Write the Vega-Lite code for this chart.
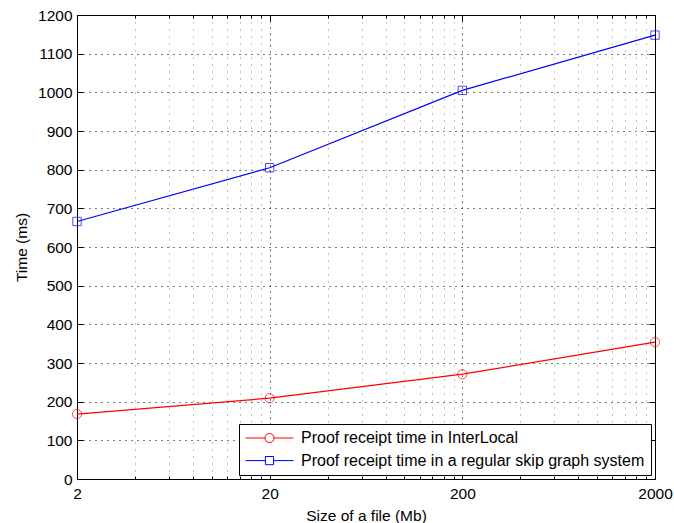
{
  "$schema": "https://vega.github.io/schema/vega-lite/v6.json",
  "width": 578,
  "height": 464,
  "autosize": {"type": "none"},
  "padding": {"left": 77, "top": 15, "right": 19, "bottom": 44},
  "background": "white",
  "config": {
    "view": {"stroke": "#000", "strokeWidth": 1},
    "font": "Liberation Sans",
    "axis": {
      "labelFont": "Liberation Sans",
      "titleFont": "Liberation Sans",
      "labelFontSize": 15.5,
      "titleFontSize": 15.5,
      "titleFontWeight": "normal",
      "labelColor": "#000",
      "titleColor": "#000",
      "tickColor": "#000",
      "labelFlush": false,
      "domain": false
    }
  },
  "datasets": {
    "d": [
      {"series": "Proof receipt time in InterLocal", "size": 2, "time": 168},
      {"series": "Proof receipt time in InterLocal", "size": 20, "time": 209},
      {"series": "Proof receipt time in InterLocal", "size": 200, "time": 271},
      {"series": "Proof receipt time in InterLocal", "size": 2000, "time": 354},
      {"series": "Proof receipt time in a regular skip graph system", "size": 2, "time": 666},
      {"series": "Proof receipt time in a regular skip graph system", "size": 20, "time": 805},
      {"series": "Proof receipt time in a regular skip graph system", "size": 200, "time": 1005},
      {"series": "Proof receipt time in a regular skip graph system", "size": 2000, "time": 1148}
    ]
  },
  "data": {"name": "d"},
  "layer": [
    {
      "transform": [{"filter": "datum.series === 'Proof receipt time in InterLocal'"}],
      "mark": {"type": "line", "strokeWidth": 1.2, "color": "#ff0000"},
      "encoding": {
        "x": {"field": "size", "type": "quantitative",
          "scale": {"type": "log", "domain": [2, 2000], "nice": false},
          "axis": {"orient": "bottom", "values": [2, 20, 200, 2000], "format": "d", "ticks": false, "labelFlush": false,
            "grid": true, "gridColor": "#000", "gridDash": [1, 5], "gridWidth": 1,
            "labelPadding": 7, "title": "Size of a file (Mb)", "titlePadding": 7}},
        "y": {"field": "time", "type": "quantitative",
          "scale": {"domain": [0, 1200], "nice": false},
          "axis": {"orient": "left", "values": [0,100,200,300,400,500,600,700,800,900,1000,1100,1200], "format": "d", "labelFlush": false,
            "ticks": false, "grid": true, "gridColor": "#000", "gridDash": [1, 5], "gridWidth": 1,
            "labelPadding": 5, "title": "Time (ms)", "titlePadding": 8}}
      }
    },
    {
      "transform": [{"filter": "datum.series === 'Proof receipt time in a regular skip graph system'"}],
      "mark": {"type": "line", "strokeWidth": 1.2, "color": "#0000ff"},
      "encoding": {
        "x": {"field": "size", "type": "quantitative", "axis": null},
        "y": {"field": "time", "type": "quantitative", "axis": null}
      }
    },
    {
      "transform": [{"filter": "datum.series === 'Proof receipt time in InterLocal'"}],
      "mark": {"type": "point", "shape": "circle", "filled": false, "size": 86, "strokeWidth": 1, "color": "#ff0000"},
      "encoding": {
        "x": {"field": "size", "type": "quantitative",
          "axis": {"orient": "bottom", "values": [2, 20, 200, 2000], "labels": false, "ticks": true, "tickSize": -6, "grid": false, "title": null}},
        "y": {"field": "time", "type": "quantitative",
          "axis": {"orient": "left", "values": [0,100,200,300,400,500,600,700,800,900,1000,1100,1200], "labels": false, "ticks": true, "tickSize": -6, "grid": false, "title": null}}
      }
    },
    {
      "transform": [{"filter": "datum.series === 'Proof receipt time in a regular skip graph system'"}],
      "mark": {"type": "point", "shape": "square", "filled": false, "size": 70, "strokeWidth": 1, "color": "#0000ff"},
      "encoding": {
        "x": {"field": "size", "type": "quantitative",
          "axis": {"orient": "bottom", "values": [4,6,8,10,12,14,16,18,40,60,80,100,120,140,160,180,400,600,800,1000,1200,1400,1600,1800],
            "labels": false, "ticks": true, "tickSize": -3, "grid": true, "gridColor": "#888", "gridDash": [1, 6], "gridWidth": 1, "title": null}},
        "y": {"field": "time", "type": "quantitative",
          "axis": {"orient": "right", "values": [0,100,200,300,400,500,600,700,800,900,1000,1100,1200], "labels": false, "ticks": true, "tickSize": -6, "grid": false, "title": null}}
      }
    },
    {
      "mark": {"type": "point", "filled": false, "strokeWidth": 1, "opacity": 0, "size": 4},
      "encoding": {
        "x": {"field": "size", "type": "quantitative",
          "axis": {"orient": "top", "values": [2, 20, 200, 2000], "labels": false, "ticks": true, "tickSize": -6, "grid": false, "title": null}},
        "y": {"field": "time", "type": "quantitative", "axis": null},
        "color": {"field": "series", "type": "nominal",
          "scale": {"domain": ["Proof receipt time in InterLocal", "Proof receipt time in a regular skip graph system"], "range": ["#ff0000", "#0000ff"]},
          "legend": {"title": null, "orient": "bottom-right", "offset": 4, "strokeColor": "#000", "fillColor": "#fff", "padding": 6, "cornerRadius": 0,
            "labelFont": "Liberation Sans", "labelFontSize": 16, "labelColor": "#000", "symbolSize": 2304, "symbolStrokeWidth": 1, "symbolOpacity": 1, "labelOffset": 7, "rowPadding": 6.6, "clipHeight": 16, "labelLimit": 600,
            "encode": {"symbols": {"update": {"opacity": {"value": 1}, "fill": {"value": "transparent"}}}}}},
        "shape": {"field": "series", "type": "nominal",
          "scale": {"domain": ["Proof receipt time in InterLocal", "Proof receipt time in a regular skip graph system"],
            "range": ["M-1,0H-0.19M0.19,0H1M0.19,0A0.19,0.19,0,1,1,-0.19,0A0.19,0.19,0,1,1,0.19,0", "M-1,0H-0.17M0.17,0H1M-0.17,-0.17H0.17V0.17H-0.17Z"]},
          "legend": {"title": null, "orient": "bottom-right", "offset": 4, "strokeColor": "#000", "fillColor": "#fff", "padding": 6, "cornerRadius": 0,
            "labelFont": "Liberation Sans", "labelFontSize": 16, "labelColor": "#000", "symbolSize": 2304, "symbolStrokeWidth": 1, "symbolOpacity": 1, "labelOffset": 7, "rowPadding": 6.6, "clipHeight": 16, "labelLimit": 600,
            "encode": {"symbols": {"update": {"opacity": {"value": 1}, "fill": {"value": "transparent"}}}}}}
      }
    },
    {
      "mark": {"type": "point", "opacity": 0, "size": 4},
      "encoding": {
        "x": {"field": "size", "type": "quantitative",
          "axis": {"orient": "top", "values": [4,6,8,10,12,14,16,18,40,60,80,100,120,140,160,180,400,600,800,1000,1200,1400,1600,1800],
            "labels": false, "ticks": true, "tickSize": -3, "grid": false, "title": null}},
        "y": {"field": "time", "type": "quantitative", "axis": null}
      }
    }
  ],
  "resolve": {"axis": {"x": "independent", "y": "independent"}}
}
